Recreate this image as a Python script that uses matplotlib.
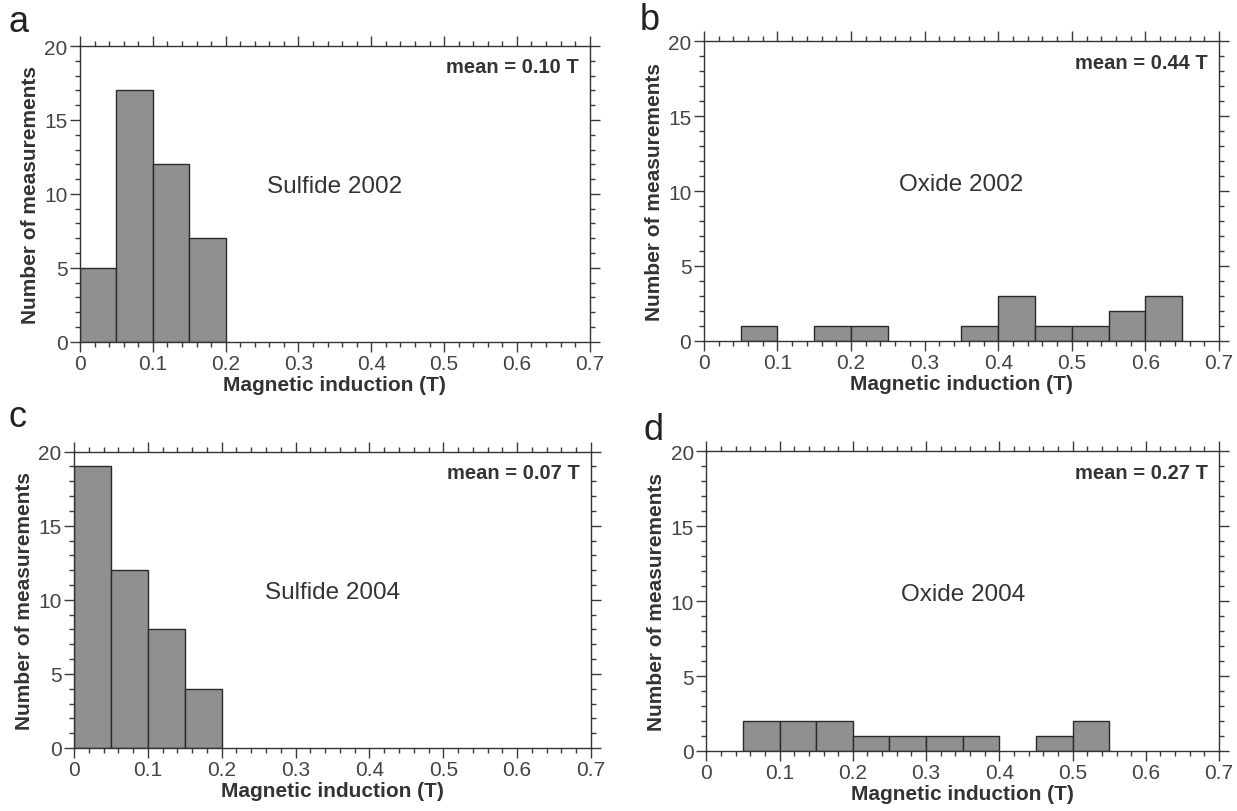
import matplotlib.pyplot as plt
import numpy as np
from matplotlib.ticker import MultipleLocator

plt.rcParams['font.family'] = ['Liberation Sans', 'DejaVu Sans']

# bin left edges (T), bin width 0.05
bin_width = 0.05
edges_a = [0.00, 0.05, 0.10, 0.15]
counts_a = [5, 17, 12, 7]
edges_b = [0.05, 0.15, 0.20, 0.35, 0.40, 0.45, 0.50, 0.55, 0.60]
counts_b = [1, 1, 1, 1, 3, 1, 1, 2, 3]
edges_c = [0.00, 0.05, 0.10, 0.15]
counts_c = [19, 12, 8, 4]
edges_d = [0.05, 0.10, 0.15, 0.20, 0.25, 0.30, 0.35, 0.45, 0.50]
counts_d = [2, 2, 2, 1, 1, 1, 1, 1, 2]

names = ['Sulfide 2002', 'Oxide 2002', 'Sulfide 2004', 'Oxide 2004']
means = ['mean = 0.10 T', 'mean = 0.44 T', 'mean = 0.07 T', 'mean = 0.27 T']
letters = ['a', 'b', 'c', 'd']
x_ticks = [0, 0.1, 0.2, 0.3, 0.4, 0.5, 0.6, 0.7]
x_tick_labels = ['0', '0.1', '0.2', '0.3', '0.4', '0.5', '0.6', '0.7']
y_ticks = [0, 5, 10, 15, 20]


def draw(ax, edges, counts, name, mean):
    ax.bar(edges, counts, width=bin_width, align='edge', color='#8f9092',
           edgecolor='#2a2a2a', linewidth=1.0, zorder=2)
    ax.set_xlim(0, 0.7)
    ax.set_ylim(0, 20)
    ax.set_xticks(x_ticks)
    ax.set_xticklabels(x_tick_labels)
    ax.set_yticks(y_ticks)
    ax.xaxis.set_minor_locator(MultipleLocator(0.02))
    ax.yaxis.set_minor_locator(MultipleLocator(1))
    ax.tick_params(which='both', direction='out', top=True, right=True,
                   labelsize=15, colors='#3a3a3a', labelcolor='#444444', width=1.0)
    ax.tick_params(which='major', length=7, pad=2)
    ax.tick_params(which='minor', length=3.5)
    for s in ax.spines.values():
        s.set_color('#333333')
        s.set_linewidth(1.0)
    ax.set_xlabel('Magnetic induction (T)', fontsize=15, fontweight='bold',
                  color='#333333', labelpad=1)
    ax.set_ylabel('Number of measurements', fontsize=15, fontweight='bold',
                  color='#333333', labelpad=3)
    ax.text(0.35, 10.5, name, fontsize=17.5, ha='center', va='center', color='#333333')
    ax.text(0.685, 18.6, mean, fontsize=14.5, fontweight='bold', ha='right',
            va='center', color='#333333')


fig = plt.figure(figsize=(12.37, 8.12), dpi=100)
boxes = [
    [0.0647, 0.578, 0.412, 0.364],
    [0.569, 0.579, 0.4165, 0.369],
    [0.0598, 0.0776, 0.418, 0.365],
    [0.571, 0.0739, 0.4145, 0.369],
]
data = [(edges_a, counts_a), (edges_b, counts_b), (edges_c, counts_c), (edges_d, counts_d)]
letter_pos = [(0.007, 0.972), (0.517, 0.975), (0.007, 0.486), (0.520, 0.470)]

for i in range(4):
    ax = fig.add_axes(boxes[i])
    draw(ax, data[i][0], data[i][1], names[i], means[i])
    fig.text(letter_pos[i][0], letter_pos[i][1], letters[i], fontsize=26,
             ha='left', va='center', color='#222222')

fig.savefig('out.png', dpi=100)
